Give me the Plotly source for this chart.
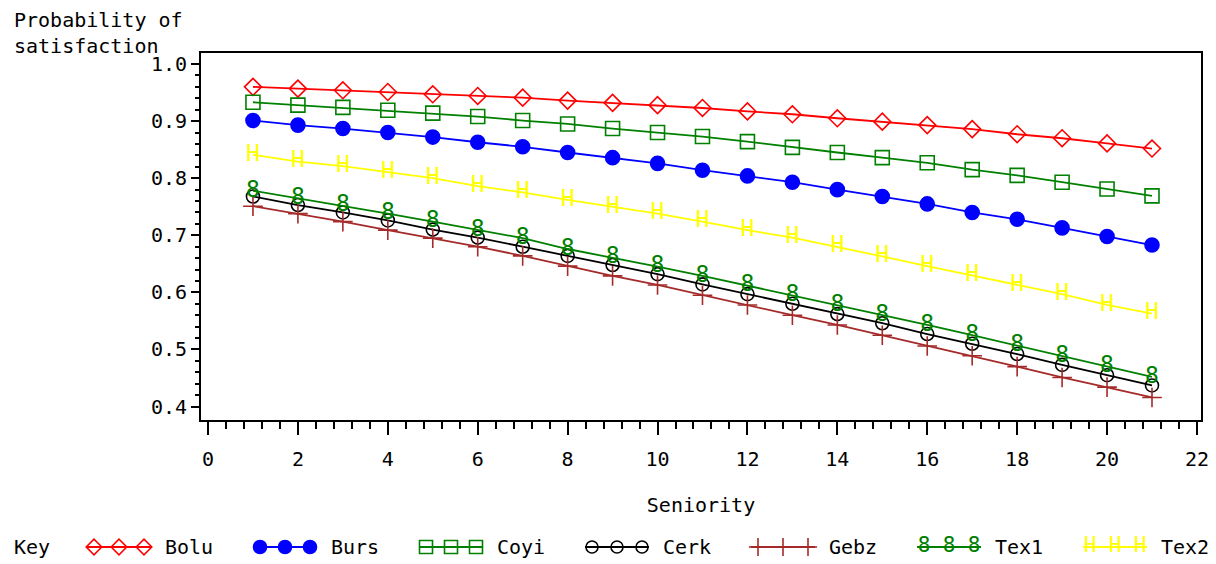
import numpy as np
import plotly.graph_objects as go

# ---------------- data ----------------
seniority = list(range(1, 22))
bolu = [0.960, 0.957, 0.954, 0.951, 0.947, 0.944, 0.941, 0.936, 0.932, 0.928, 0.923,
        0.917, 0.912, 0.905, 0.899, 0.893, 0.886, 0.877, 0.870, 0.861, 0.852]
burs = [0.901, 0.893, 0.887, 0.880, 0.872, 0.863, 0.855, 0.845, 0.836, 0.826, 0.814,
        0.804, 0.793, 0.780, 0.768, 0.755, 0.740, 0.728, 0.713, 0.698, 0.683]
coyi = [0.933, 0.928, 0.924, 0.919, 0.914, 0.908, 0.901, 0.895, 0.887, 0.880, 0.873,
        0.864, 0.854, 0.845, 0.836, 0.827, 0.815, 0.805, 0.793, 0.781, 0.769]
cerk = [0.768, 0.753, 0.740, 0.726, 0.710, 0.696, 0.680, 0.664, 0.648, 0.632, 0.614,
        0.597, 0.580, 0.562, 0.546, 0.527, 0.510, 0.492, 0.473, 0.455, 0.437]
gebz = [0.751, 0.738, 0.724, 0.709, 0.695, 0.680, 0.664, 0.646, 0.629, 0.613, 0.595,
        0.578, 0.560, 0.543, 0.525, 0.506, 0.489, 0.470, 0.451, 0.434, 0.416]
tex1 = [0.778, 0.765, 0.752, 0.738, 0.724, 0.709, 0.695, 0.676, 0.661, 0.645, 0.629,
        0.612, 0.595, 0.578, 0.560, 0.543, 0.525, 0.507, 0.489, 0.470, 0.452]
tex2 = [0.841, 0.829, 0.821, 0.811, 0.800, 0.786, 0.775, 0.762, 0.750, 0.738, 0.724,
        0.709, 0.696, 0.680, 0.663, 0.646, 0.630, 0.613, 0.597, 0.578, 0.563]

series_names = ["Bolu", "Burs", "Coyi", "Cerk", "Gebz", "Tex1", "Tex2"]
x_tickvals = list(range(0, 23, 2))
y_tickvals = [0.4, 0.5, 0.6, 0.7, 0.8, 0.9, 1.0]

# ---------------- styles ----------------
W, H = 1216, 564
FONT = "DejaVu Sans Mono"
FS = 20
TXT_MARK = 23
styles = {
    "Bolu": dict(color="#ff0000", symbol="diamond-open", size=13, text=None),
    "Burs": dict(color="#0000ff", symbol="circle", size=14, text=None),
    "Coyi": dict(color="#008000", symbol="square-open", size=14, text=None),
    "Cerk": dict(color="#000000", symbol="circle-open", size=13, text=None),
    "Gebz": dict(color="#a52a2a", symbol="cross-thin-open", size=14, text=None),
    "Tex1": dict(color="#008000", symbol=None, size=None, text="8"),
    "Tex2": dict(color="#ffff00", symbol=None, size=None, text="H"),
}
values = dict(Bolu=bolu, Burs=burs, Coyi=coyi, Cerk=cerk, Gebz=gebz, Tex1=tex1, Tex2=tex2)

fig = go.Figure()

# main traces
for name in series_names:
    st = styles[name]
    if st["text"] is None:
        fig.add_trace(go.Scatter(
            x=seniority, y=values[name], mode="lines+markers", name=name,
            line=dict(color=st["color"], width=1.8),
            marker=dict(symbol=st["symbol"], size=st["size"], color=st["color"],
                        line=dict(color=st["color"], width=1.6)),
            showlegend=False))
    else:
        fig.add_trace(go.Scatter(
            x=seniority, y=values[name], mode="lines+text", name=name,
            text=[st["text"]] * len(seniority), textposition="middle center",
            textfont=dict(family=FONT, size=TXT_MARK, color=st["color"]),
            line=dict(color=st["color"], width=1.8),
            showlegend=False))

# ---------------- custom key (legend) on a pixel-scaled overlay axis ----------------
key_y = 17
key_start = 87
key_step = 166
sample_w = 64
annotations = []
for i, name in enumerate(series_names):
    st = styles[name]
    s = key_start + i * key_step
    mx = [s + 7, s + 32, s + 57]
    fig.add_trace(go.Scatter(x=[s, s + sample_w], y=[key_y, key_y], mode="lines",
                             line=dict(color=st["color"], width=1.8),
                             xaxis="x2", yaxis="y2", showlegend=False, hoverinfo="skip"))
    if st["text"] is None:
        fig.add_trace(go.Scatter(x=mx, y=[key_y] * 3, mode="markers",
                                 marker=dict(symbol=st["symbol"], size=st["size"] - 1, color=st["color"],
                                             line=dict(color=st["color"], width=1.6)),
                                 xaxis="x2", yaxis="y2", showlegend=False, hoverinfo="skip"))
    else:
        fig.add_trace(go.Scatter(x=mx, y=[key_y] * 3, mode="text", text=[st["text"]] * 3,
                                 textposition="middle center",
                                 textfont=dict(family=FONT, size=TXT_MARK - 2, color=st["color"]),
                                 xaxis="x2", yaxis="y2", showlegend=False, hoverinfo="skip"))
    annotations.append(dict(x=s + sample_w + 12, y=key_y, xref="x2", yref="y2", text=name,
                            showarrow=False, xanchor="left", yanchor="middle",
                            font=dict(family=FONT, size=FS, color="black")))
annotations.append(dict(x=12, y=key_y, xref="x2", yref="y2", text="Key", showarrow=False,
                        xanchor="left", yanchor="middle",
                        font=dict(family=FONT, size=FS, color="black")))
annotations.append(dict(x=12 / W, y=1 - 6 / H, xref="paper", yref="paper",
                        text="Probability of<br>satisfaction", showarrow=False,
                        xanchor="left", yanchor="top", align="left",
                        font=dict(family=FONT, size=FS, color="black")))

# plot area in pixels
pl, pr, pt, pb = 201, 1201, 53, 420

axis_common = dict(showline=True, linewidth=2, linecolor="black", mirror=True,
                   ticks="outside", tickwidth=2, tickcolor="black",
                   showgrid=False, zeroline=False, automargin=False,
                   tickfont=dict(family=FONT, size=FS, color="black"))

y_minor = [round(v, 2) for v in np.arange(0.42, 1.0001, 0.02)]

fig.update_layout(
    width=W, height=H,
    margin=dict(l=0, r=0, t=0, b=0),
    paper_bgcolor="white", plot_bgcolor="white",
    font=dict(family=FONT, size=FS, color="black"),
    xaxis=dict(domain=[pl / W, pr / W], range=[-0.156, 22.09],
               tickmode="array", tickvals=x_tickvals, ticklen=13,
               ticklabelstandoff=7,
               minor=dict(dtick=0.4, tick0=0, ticks="outside", ticklen=7, tickwidth=2,
                          tickcolor="black"),
               title=dict(text="Seniority", standoff=28,
                          font=dict(family=FONT, size=FS, color="black")),
               **axis_common),
    yaxis=dict(domain=[1 - pb / H, 1 - pt / H], range=[0.3765, 1.0193],
               tickmode="array", tickvals=y_tickvals, tickformat=".1f", ticklen=8,
               minor=dict(tickmode="array", tickvals=y_minor, ticks="outside", ticklen=4,
                          tickwidth=2, tickcolor="black"),
               **axis_common),
    xaxis2=dict(domain=[0, 1], range=[0, W], visible=False, anchor="y2", fixedrange=True),
    yaxis2=dict(domain=[0, 34 / H], range=[0, 34], visible=False, anchor="x2", fixedrange=True),
    annotations=annotations,
    showlegend=False,
)

fig.write_html("out.html")
